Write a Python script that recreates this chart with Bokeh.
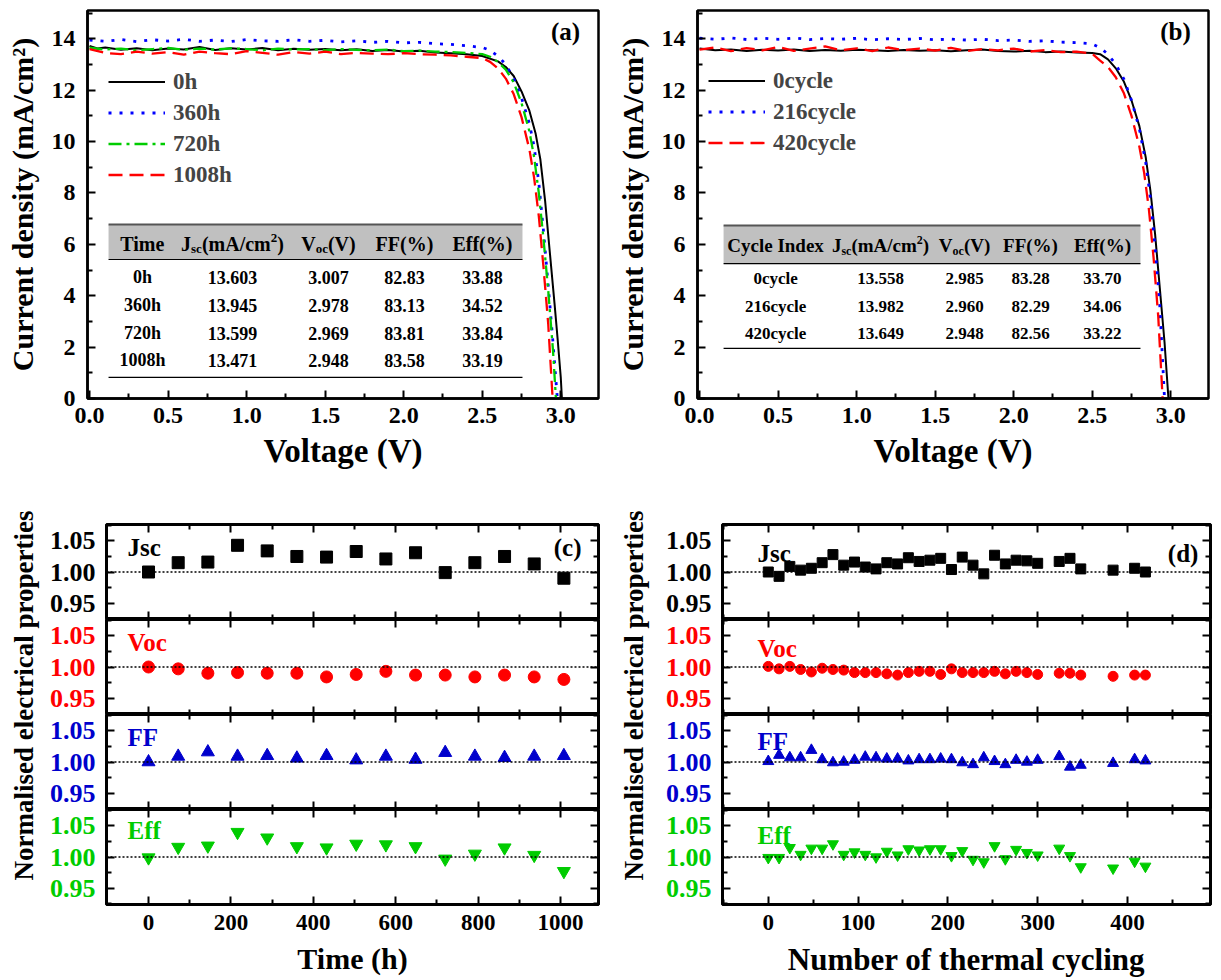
from bokeh.plotting import figure
from bokeh.models import Range1d, FixedTicker, LinearAxis, Span, PrintfTickFormatter
from bokeh.layouts import row, column
from bokeh.embed import file_html
from bokeh.resources import INLINE
from bokeh.core.properties import value

FONT = "Liberation Serif"

# ---------------- Panel (a): J-V curves vs damp-heat time ----------------
a_names = ["0h", "360h", "720h", "1008h"]
a_0h_V = [0.00, 0.05, 0.10, 0.20, 0.30, 0.40, 0.50, 0.60, 0.70, 0.80, 0.90, 1.00, 1.10, 1.20, 1.30, 1.40,
          1.50, 1.60, 1.70, 1.80, 1.90, 2.00, 2.10, 2.20, 2.30, 2.40, 2.50, 2.60, 2.65, 2.70, 2.75, 2.80,
          2.84, 2.87, 2.90, 2.93, 2.96, 2.98, 3.00, 3.007]
a_0h_J = [13.72, 13.62, 13.66, 13.57, 13.63, 13.55, 13.62, 13.58, 13.68, 13.56, 13.63, 13.58, 13.64, 13.55,
          13.61, 13.57, 13.60, 13.55, 13.59, 13.52, 13.56, 13.50, 13.53, 13.47, 13.44, 13.40, 13.33, 13.12,
          12.90, 12.55, 11.95, 11.20, 10.30, 9.30, 7.70, 5.70, 3.70, 2.30, 0.80, 0.00]
a_360h_V = [0.00, 0.10, 0.20, 0.30, 0.40, 0.50, 0.60, 0.70, 0.80, 0.90, 1.00, 1.10, 1.20, 1.30, 1.40, 1.50,
            1.60, 1.70, 1.80, 1.90, 2.00, 2.10, 2.20, 2.30, 2.40, 2.50, 2.55, 2.60, 2.65, 2.70, 2.75, 2.80,
            2.83, 2.86, 2.89, 2.92, 2.95, 2.978]
a_360h_J = [13.95, 13.90, 13.97, 13.89, 13.96, 13.91, 13.98, 13.90, 13.95, 13.89, 13.97, 13.92, 13.90, 13.96,
            13.90, 13.94, 13.88, 13.92, 13.86, 13.90, 13.84, 13.86, 13.81, 13.78, 13.73, 13.66, 13.55, 13.32,
            13.00, 12.45, 11.70, 10.70, 9.80, 8.40, 6.50, 4.40, 2.20, 0.00]
a_720h_V = [0.00, 0.10, 0.20, 0.30, 0.40, 0.50, 0.60, 0.70, 0.80, 0.90, 1.00, 1.10, 1.20, 1.30, 1.40, 1.50,
            1.60, 1.70, 1.80, 1.90, 2.00, 2.10, 2.20, 2.30, 2.40, 2.50, 2.55, 2.60, 2.65, 2.70, 2.75, 2.80,
            2.83, 2.86, 2.89, 2.92, 2.95, 2.969]
a_720h_J = [13.65, 13.58, 13.62, 13.55, 13.60, 13.64, 13.57, 13.62, 13.58, 13.63, 13.60, 13.55, 13.62, 13.58,
            13.60, 13.56, 13.60, 13.57, 13.55, 13.58, 13.52, 13.54, 13.50, 13.48, 13.45, 13.40, 13.30, 13.10,
            12.80, 12.30, 11.50, 10.40, 9.40, 8.00, 6.20, 4.20, 1.90, 0.00]
a_1008h_V = [0.00, 0.10, 0.20, 0.30, 0.40, 0.50, 0.60, 0.70, 0.80, 0.90, 1.00, 1.10, 1.20, 1.30, 1.40, 1.50,
             1.60, 1.70, 1.80, 1.90, 2.00, 2.10, 2.20, 2.30, 2.40, 2.50, 2.55, 2.60, 2.65, 2.70, 2.75, 2.80,
             2.83, 2.86, 2.89, 2.92, 2.948]
a_1008h_J = [13.60, 13.45, 13.40, 13.50, 13.42, 13.48, 13.38, 13.50, 13.44, 13.40, 13.52, 13.45, 13.38, 13.48,
             13.42, 13.50, 13.40, 13.45, 13.42, 13.40, 13.44, 13.40, 13.38, 13.35, 13.30, 13.25, 13.10, 12.85,
             12.45, 11.85, 10.95, 9.70, 8.60, 7.10, 5.10, 2.90, 0.00]

a_tab_rows = ["0h", "360h", "720h", "1008h"]
a_tab_jsc = [13.603, 13.945, 13.599, 13.471]
a_tab_voc = [3.007, 2.978, 2.969, 2.948]
a_tab_ff = [82.83, 83.13, 83.81, 83.58]
a_tab_eff = [33.88, 34.52, 33.84, 33.19]

# ---------------- Panel (b): J-V curves vs thermal cycles ----------------
b_names = ["0cycle", "216cycle", "420cycle"]
b_0_V = [0.00, 0.10, 0.20, 0.30, 0.40, 0.50, 0.60, 0.70, 0.80, 0.90, 1.00, 1.10, 1.20, 1.30, 1.40, 1.50,
         1.60, 1.70, 1.80, 1.90, 2.00, 2.10, 2.20, 2.30, 2.40, 2.50, 2.55, 2.60, 2.65, 2.70, 2.75, 2.80,
         2.84, 2.87, 2.90, 2.93, 2.96, 2.985]
b_0_J = [13.62, 13.55, 13.58, 13.52, 13.57, 13.54, 13.58, 13.52, 13.56, 13.53, 13.57, 13.55, 13.52, 13.56,
         13.53, 13.55, 13.51, 13.55, 13.58, 13.52, 13.50, 13.53, 13.48, 13.50, 13.47, 13.45, 13.40, 13.20,
         12.85, 12.35, 11.60, 10.60, 9.40, 8.10, 6.40, 4.30, 2.20, 0.00]
b_216_V = [0.00, 0.10, 0.20, 0.30, 0.40, 0.50, 0.60, 0.70, 0.80, 0.90, 1.00, 1.10, 1.20, 1.30, 1.40, 1.50,
           1.60, 1.70, 1.80, 1.90, 2.00, 2.10, 2.20, 2.30, 2.40, 2.50, 2.55, 2.60, 2.65, 2.70, 2.75, 2.80,
           2.84, 2.87, 2.90, 2.93, 2.96]
b_216_J = [14.02, 13.98, 14.03, 13.97, 14.02, 13.98, 14.03, 13.97, 14.01, 13.98, 14.02, 13.96, 14.00, 13.97,
           14.01, 13.96, 13.99, 13.95, 13.98, 13.93, 13.95, 13.90, 13.92, 13.87, 13.85, 13.80, 13.65, 13.40,
           13.00, 12.45, 11.60, 10.50, 9.20, 7.80, 5.90, 3.60, 0.00]
b_420_V = [0.00, 0.10, 0.20, 0.30, 0.40, 0.50, 0.60, 0.70, 0.80, 0.90, 1.00, 1.10, 1.20, 1.30, 1.40, 1.50,
           1.60, 1.70, 1.80, 1.90, 2.00, 2.10, 2.20, 2.30, 2.40, 2.50, 2.55, 2.60, 2.65, 2.70, 2.75, 2.80,
           2.83, 2.86, 2.89, 2.92, 2.948]
b_420_J = [13.58, 13.66, 13.52, 13.64, 13.55, 13.68, 13.53, 13.62, 13.70, 13.55, 13.63, 13.52, 13.66, 13.56,
           13.62, 13.54, 13.65, 13.52, 13.60, 13.55, 13.62, 13.50, 13.56, 13.48, 13.50, 13.42, 13.15, 12.90,
           12.50, 11.90, 11.00, 9.80, 8.80, 7.40, 5.50, 3.20, 0.00]

b_tab_rows = ["0cycle", "216cycle", "420cycle"]
b_tab_jsc = [13.558, 13.982, 13.649]
b_tab_voc = [2.985, 2.960, 2.948]
b_tab_ff = [83.28, 82.29, 82.56]
b_tab_eff = [33.70, 34.06, 33.22]

# ---------------- Panel (c): normalised parameters vs time ----------------
c_time = [0, 72, 144, 216, 288, 360, 432, 504, 576, 648, 720, 792, 864, 936, 1008]
c_jsc = [1.000, 1.015, 1.016, 1.043, 1.034, 1.025, 1.024, 1.033, 1.021, 1.031, 0.999, 1.015, 1.025, 1.013, 0.990]
c_voc = [1.000, 0.997, 0.990, 0.991, 0.990, 0.990, 0.984, 0.988, 0.993, 0.987, 0.987, 0.984, 0.987, 0.984, 0.980]
c_ff = [1.000, 1.009, 1.016, 1.009, 1.010, 1.006, 1.010, 1.003, 1.009, 1.004, 1.015, 1.009, 1.007, 1.009, 1.010]
c_eff = [0.999, 1.016, 1.018, 1.040, 1.031, 1.017, 1.015, 1.021, 1.020, 1.017, 0.997, 1.005, 1.015, 1.003, 0.977]

# ---------------- Panel (d): normalised parameters vs thermal cycles ----------------
d_cycle = [0, 12, 24, 36, 48, 60, 72, 84, 96, 108, 120, 132, 144, 156, 168, 180, 192, 204, 216, 228,
           240, 252, 264, 276, 288, 300, 324, 336, 348, 384, 408, 420]
d_jsc = [1.000, 0.993, 1.009, 1.003, 1.006, 1.015, 1.028, 1.011, 1.016, 1.008, 1.005, 1.015, 1.013, 1.023,
         1.017, 1.019, 1.022, 1.004, 1.024, 1.011, 0.997, 1.027, 1.013, 1.019, 1.018, 1.014, 1.017, 1.022,
         1.005, 1.003, 1.006, 1.000]
d_voc = [1.001, 0.997, 1.001, 0.996, 0.992, 0.998, 0.996, 0.995, 0.991, 0.991, 0.991, 0.989, 0.987, 0.991,
         0.993, 0.993, 0.988, 0.997, 0.991, 0.991, 0.991, 0.993, 0.989, 0.993, 0.991, 0.988, 0.990, 0.990,
         0.987, 0.985, 0.987, 0.987]
d_ff = [1.001, 1.011, 1.007, 1.007, 1.019, 1.004, 0.999, 1.000, 1.003, 1.008, 1.007, 1.005, 1.005, 1.002,
        1.004, 1.004, 1.005, 1.004, 0.999, 0.996, 1.007, 1.001, 0.996, 1.003, 1.000, 1.003, 1.009, 0.992,
        0.995, 0.998, 1.004, 1.002]
d_eff = [0.999, 0.999, 1.015, 1.004, 1.014, 1.014, 1.021, 1.004, 1.008, 1.004, 1.000, 1.009, 1.003, 1.013,
         1.011, 1.013, 1.013, 1.002, 1.010, 0.996, 0.992, 1.018, 0.997, 1.012, 1.007, 1.003, 1.014, 1.002,
         0.984, 0.982, 0.993, 0.985]

param_names = ["Jsc", "Voc", "FF", "Eff"]
param_colors = ["#000000", "#ff0000", "#0000cc", "#00cc00"]
param_markers = ["square", "circle", "triangle", "inverted_triangle"]

# ---------------- helpers ----------------
EM = {" ": .25, "(": .333, ")": .333, "%": 1.0, "/": .278, ".": .25, "A": .722, "C": .722, "E": .667,
      "F": .611, "I": .389, "J": .5, "T": .667, "V": .722, "c": .444, "d": .556, "e": .444, "f": .333,
      "h": .556, "i": .278, "l": .278, "m": .833, "n": .556, "o": .5, "s": .389, "x": .5, "y": .5}


def tw(s, size):
    return sum(EM.get(ch, 0.5) for ch in s) * size


def style_axis(ax, tick_size, color="#000000"):
    ax.major_label_text_font = FONT
    ax.major_label_text_font_style = "bold"
    ax.major_label_text_font_size = tick_size
    ax.major_label_text_color = color
    ax.axis_label_text_font = FONT
    ax.axis_label_text_font_style = "bold"
    ax.axis_label_text_color = "#000000"
    ax.major_tick_in = 8
    ax.major_tick_out = 0
    ax.minor_tick_in = 5
    ax.minor_tick_out = 0
    ax.major_tick_line_width = 2
    ax.minor_tick_line_width = 2
    ax.axis_line_width = 2.5


def no_labels(ax):
    ax.major_label_text_font_size = "0px"
    ax.major_label_text_color = None
    ax.major_label_text_alpha = 0
    ax.major_label_standoff = 0


def hidden_axis(ticker):
    ax = LinearAxis(ticker=ticker)
    style_axis(ax, "0px")
    no_labels(ax)
    return ax


def draw_table(p, cols, hdr_y, rows_y, band, lines, header_parts, body, hsize, dsize):
    x0, x1, yb, yt = band
    p.quad(left=[x0], right=[x1], bottom=[yb], top=[yt], fill_color="#c0c0c0", line_color=None)
    p.segment(x0=[x0, x0, x0], x1=[x1, x1, x1], y0=lines, y1=lines,
              line_color=["#555555", "#000000", "#000000"], line_width=[2, 1.2, 1.2])
    small = round(hsize * 0.65)
    main = dict(x=[], y=[], text=[], xo=[], yo=[])
    sm = dict(x=[], y=[], text=[], xo=[], yo=[])
    for cx, parts in zip(cols, header_parts):
        widths = [tw(t, hsize if k == "n" else small) for t, k in parts]
        off = -sum(widths) / 2
        for (t, k), w in zip(parts, widths):
            tgt = main if k == "n" else sm
            tgt["x"].append(cx)
            tgt["y"].append(hdr_y)
            tgt["text"].append(t)
            tgt["xo"].append(off)
            tgt["yo"].append(0 if k == "n" else (5 if k == "sub" else -6))
            off += w
    for src, size in ((main, hsize), (sm, small)):
        p.text(x=src["x"], y=src["y"], text=src["text"], x_offset=src["xo"], y_offset=src["yo"],
               text_font=value(FONT), text_font_style="bold", text_font_size=value(f"{size}px"),
               text_align="left", text_baseline="middle", text_color="#000000")
    bx, by, bt = [], [], []
    for ry, cells in zip(rows_y, body):
        for cx, c in zip(cols, cells):
            bx.append(cx)
            by.append(ry)
            bt.append(c)
    p.text(x=bx, y=by, text=bt, text_font=value(FONT), text_font_style="bold",
           text_font_size=value(f"{dsize}px"), text_align="center", text_baseline="middle",
           text_color="#000000")


def jv_panel(width, series, colors, dashes, lwidths, tag, leg_loc, table):
    p = figure(width=width, height=480, x_range=Range1d(-0.013, 3.24), y_range=Range1d(0, 15.1),
               output_backend="svg", toolbar_location=None, min_border_left=87,
               min_border_right=width - 87 - 511, min_border_top=10, min_border_bottom=82)
    p.grid.visible = False
    p.outline_line_color = "#000000"
    p.outline_line_width = 2.5
    p.background_fill_color = "white"
    p.xaxis.ticker = FixedTicker(ticks=[0, 0.5, 1.0, 1.5, 2.0, 2.5, 3.0],
                                 minor_ticks=[0.25, 0.75, 1.25, 1.75, 2.25, 2.75, 3.25])
    p.xaxis.formatter = PrintfTickFormatter(format="%.1f")
    p.yaxis.ticker = FixedTicker(ticks=[0, 2, 4, 6, 8, 10, 12, 14], minor_ticks=[1, 3, 5, 7, 9, 11, 13, 15])
    style_axis(p.xaxis[0], "24px")
    style_axis(p.yaxis[0], "24px")
    p.xaxis.axis_label = "Voltage (V)"
    p.yaxis.axis_label = "Current density (mA/cm²)"
    p.xaxis.axis_label_text_font_size = "33px"
    p.yaxis.axis_label_text_font_size = "30px"
    p.xaxis.major_label_standoff = 9
    p.xaxis.axis_label_standoff = 7
    p.yaxis.major_label_standoff = 12
    p.yaxis.axis_label_standoff = 10

    draw_table(p, *table)

    for (name, vx, jy), c, d, lw in zip(series, colors, dashes, lwidths):
        p.line(vx, jy, line_color=c, line_dash=d, line_width=lw, legend_label=name)
    lg = p.legend[0]
    lg.location = leg_loc
    lg.label_text_font = FONT
    lg.label_text_font_style = "bold"
    lg.label_text_font_size = "23px"
    lg.background_fill_alpha = 0
    lg.border_line_color = None
    lg.glyph_width = 57
    lg.glyph_height = 31
    lg.label_height = 31
    lg.spacing = 0
    lg.padding = 0
    lg.margin = 0
    lg.label_standoff = 8

    p.text(x=[3.03], y=[14.3], text=[tag], text_font=value(FONT), text_font_style="bold",
           text_font_size=value("25px"), text_align="center", text_baseline="middle", text_color="#000000")
    return p


# ---- Panel (a)
a_table = (
    [0.337, 0.910, 1.521, 2.005, 2.501],
    6.03, [4.71, 3.62, 2.53, 1.48],
    (0.121, 2.756, 5.41, 6.77),
    [6.77, 5.41, 0.82],
    [[("Time", "n")],
     [("J", "n"), ("sc", "sub"), ("(mA/cm", "n"), ("2", "sup"), (")", "n")],
     [("V", "n"), ("oc", "sub"), ("(V)", "n")],
     [("FF(%)", "n")], [("Eff(%)", "n")]],
    [[r, f"{j:.3f}", f"{v:.3f}", f"{f:.2f}", f"{e:.2f}"]
     for r, j, v, f, e in zip(a_tab_rows, a_tab_jsc, a_tab_voc, a_tab_ff, a_tab_eff)],
    20, 18)
fa = jv_panel(610,
              [(a_names[0], a_0h_V, a_0h_J), (a_names[1], a_360h_V, a_360h_J),
               (a_names[2], a_720h_V, a_720h_J), (a_names[3], a_1008h_V, a_1008h_J)],
              ["#000000", "#0000ff", "#00cc00", "#ff0000"],
              ["solid", "3 8", "13 5 3 5", "14 7"], [2, 2.8, 2.3, 2.3],
              "(a)", (21, 208), a_table)

# ---- Panel (b)
b_table = (
    [0.484, 1.152, 1.687, 2.107, 2.565],
    5.95, [4.67, 3.58, 2.53],
    (0.153, 2.807, 5.25, 6.73),
    [6.73, 5.25, 1.95],
    [[("Cycle Index", "n")],
     [("J", "n"), ("sc", "sub"), ("(mA/cm", "n"), ("2", "sup"), (")", "n")],
     [("V", "n"), ("oc", "sub"), ("(V)", "n")],
     [("FF(%)", "n")], [("Eff(%)", "n")]],
    [[r, f"{j:.3f}", f"{v:.3f}", f"{f:.2f}", f"{e:.2f}"]
     for r, j, v, f, e in zip(b_tab_rows, b_tab_jsc, b_tab_voc, b_tab_ff, b_tab_eff)],
    19, 17)
fb = jv_panel(611,
              [(b_names[0], b_0_V, b_0_J), (b_names[1], b_216_V, b_216_J), (b_names[2], b_420_V, b_420_J)],
              ["#000000", "#0000ff", "#ff0000"],
              ["solid", "3 8", "14 7"], [2, 2.8, 2.3],
              "(b)", (11, 240), b_table)


# ---------------- stacked panels (c), (d) ----------------
def stacked(width, left_border, xr, xt, xminor, xs, ys_list, msize, xlabel, xlabel_size, tag, tag_x,
            lab_x, lab_y):
    figs = []
    heights = [139, 95, 95, 171]
    for k in range(4):
        first, last = k == 0, k == 3
        p = figure(width=width, height=heights[k], x_range=xr, y_range=Range1d(0.9235, 1.0765),
                   output_backend="svg", toolbar_location=None, min_border_left=left_border,
                   min_border_right=width - left_border - (492 if width == 570 else 488),
                   min_border_top=44 if first else 0, min_border_bottom=76 if last else 0)
        p.grid.visible = False
        p.outline_line_color = "#000000"
        p.outline_line_width = 3
        xticker = FixedTicker(ticks=xt, minor_ticks=xminor)
        yticker = FixedTicker(ticks=[0.95, 1.00, 1.05], minor_ticks=[0.925, 0.975, 1.025, 1.075])
        p.xaxis.ticker = xticker
        p.yaxis.ticker = yticker
        p.yaxis.formatter = PrintfTickFormatter(format="%.2f")
        style_axis(p.yaxis[0], "26px", param_colors[k])
        p.yaxis.major_label_standoff = 11
        if last:
            style_axis(p.xaxis[0], "23px")
            p.xaxis.axis_label = xlabel
            p.xaxis.axis_label_text_font_size = xlabel_size
            p.xaxis.major_label_standoff = 10
            p.xaxis.axis_label_standoff = 9
        else:
            style_axis(p.xaxis[0], "0px")
            no_labels(p.xaxis[0])
        p.add_layout(hidden_axis(FixedTicker(ticks=xt, minor_ticks=xminor)), "above")
        p.add_layout(hidden_axis(FixedTicker(ticks=[0.95, 1.00, 1.05],
                                             minor_ticks=[0.925, 0.975, 1.025, 1.075])), "right")
        p.add_layout(Span(location=1.0, dimension="width", line_color="#000000", line_dash="2 2",
                          line_width=1.5))
        p.scatter(xs, ys_list[k], marker=param_markers[k], size=msize[k], fill_color=param_colors[k],
                  line_color=param_colors[k])
        p.text(x=[lab_x], y=[lab_y[k]], text=[param_names[k]], text_font=value(FONT),
               text_font_style="bold", text_font_size=value("25px"), text_align="left",
               text_baseline="middle", text_color=param_colors[k])
        if first:
            p.text(x=[tag_x], y=[lab_y[0]], text=[tag], text_font=value(FONT), text_font_style="bold",
                   text_font_size=value("25px"), text_align="center", text_baseline="middle",
                   text_color="#000000")
        figs.append(p)
    return figs


def ylabel_fig():
    lab = figure(width=40, height=500, x_range=Range1d(0, 1), y_range=Range1d(0, 1),
                 output_backend="svg", toolbar_location=None, min_border_left=38, min_border_right=0,
                 min_border_top=0, min_border_bottom=70)
    lab.xaxis.visible = False
    lab.grid.visible = False
    lab.outline_line_color = None
    ya = lab.yaxis[0]
    ya.ticker = FixedTicker(ticks=[])
    no_labels(ya)
    ya.major_tick_line_color = None
    ya.minor_tick_line_color = None
    ya.axis_line_color = None
    ya.axis_label_standoff = 0
    ya.axis_label = "Normalised electrical properties"
    ya.axis_label_text_font = FONT
    ya.axis_label_text_font_style = "bold"
    ya.axis_label_text_font_size = "27px"
    ya.axis_label_text_color = "#000000"
    return lab


cs = stacked(570, 66, Range1d(-102, 1092), [0, 200, 400, 600, 800, 1000], [100, 300, 500, 700, 900],
             c_time, [c_jsc, c_voc, c_ff, c_eff], [12, 12, 13, 13], "Time (h)", "30px", "(c)", 1017, -51,
             [1.040, 1.040, 1.040, 1.042])
ds = stacked(571, 72, Range1d(-51, 492.5), [0, 100, 200, 300, 400], [-50, 50, 150, 250, 350, 450],
             d_cycle, [d_jsc, d_voc, d_ff, d_eff], [10, 10, 11, 11], "Number of thermal cycling", "31px",
             "(d)", 462, -12, [1.030, 1.029, 1.033, 1.035])

layout = column(row(fa, fb),
                row(row(ylabel_fig(), column(*cs)), row(ylabel_fig(), column(*ds))))

open("out.html", "w").write(file_html(layout, INLINE))
